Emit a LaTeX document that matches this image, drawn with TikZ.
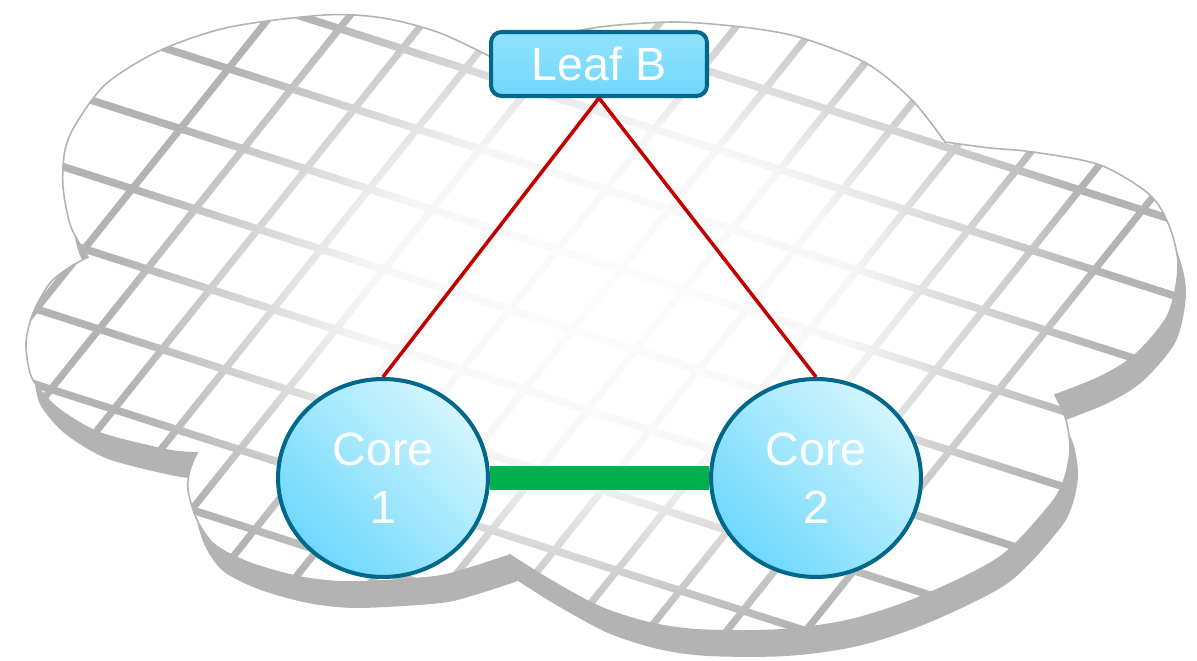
\documentclass[tikz,border=0pt]{standalone}
\usepackage{fontspec}
\setmainfont{Liberation Sans}
\usetikzlibrary{shapes.geometric,fadings}

\definecolor{nodeedge}{HTML}{00688B}
\definecolor{nodelight}{HTML}{D4F5FE}
\definecolor{nodedark}{HTML}{6ED8FD}
\definecolor{leaflight}{HTML}{92E3FD}
\definecolor{leafdark}{HTML}{70D7FB}
\definecolor{linkred}{HTML}{C00000}
\definecolor{linkgreen}{HTML}{00B050}
\definecolor{shadowgray}{HTML}{B3B3B3}

% white in the middle of the grid, clear towards the rim
\pgfdeclareradialshading{gridshade}{\pgfpointorigin}{color(0bp)=(white!97!black); color(12bp)=(white!90!black); color(25bp)=(black); color(50bp)=(black)}
\pgfdeclarefading{gridfade}{\pgfuseshading{gridshade}}

% outline of the cloud, one smooth plot per lobe
\newcommand{\cloudpath}{plot[smooth] coordinates {(88,257) (71,227) (63,187) (65,150) (77,122) (107,83) (161,50) (230,27) (325,15) (383,18) (440,33) (497,60)}
 -- plot[smooth] coordinates {(497,60) (540,40) (600,27) (676,22) (750,28) (802,38) (866,63) (912,100) (945,142)}
 -- plot[smooth] coordinates {(945,142) (990,148) (1033,152) (1100,165) (1150,195) (1170,228) (1178,267) (1168,315) (1135,355) (1100,377) (1055,395)}
 -- plot[smooth] coordinates {(1055,395) (1066,420) (1070,450) (1064,480) (1050,505) (1000,557) (920,597) (850,620) (779,630) (700,630) (650,623) (600,607) (550,580) (510,555)}
 -- plot[smooth] coordinates {(510,555) (470,568) (433,577) (350,582) (300,577) (250,563) (215,545) (197,520) (188,490) (190,470) (197,453)}
 -- plot[smooth] coordinates {(197,453) (167,450) (100,433) (60,410) (40,390) (30,373) (26,343) (33,313) (50,283) (70,267) (88,257)} -- cycle}

\begin{document}
\begin{tikzpicture}[x=0.02cm,y=-0.02cm,
  gridline/.style={draw=shadowgray,line width=4.3pt},
  netnode/.style={draw=nodeedge,line width=2.3pt,top color=nodelight,bottom color=nodedark,
    shading angle=-45,text=white,align=center,font=\fontsize{26.5}{33}\selectfont},
  leafbox/.style={netnode,top color=leaflight,bottom color=leafdark,rectangle,rounded corners=6pt,
    minimum width=4.32cm,minimum height=1.28cm},
  corenode/.style={netnode,ellipse,minimum width=4.2cm,minimum height=3.96cm,inner sep=0pt},
  redlink/.style={draw=linkred,line width=2pt},
  greenlink/.style={draw=linkgreen,line width=14pt}]
   \useasboundingbox (0,0) rectangle (1197,661);

   % cloud with its shadow
   \fill[shadowgray,shift={(8,26)}] \cloudpath;
   \fill[white] \cloudpath;
   \begin{scope}
     \clip \cloudpath;
     \foreach \k in {-6,...,10}
       \draw[gridline] (0,-80+75.5*\k) -- (1197,303+75.5*\k);
     \foreach \k in {0,...,13}
       \draw[gridline,line width=4pt] (323.4+79*\k,-50) -- (-276.6+79*\k,700);
     \fill[white,path fading=gridfade] (610,300) ellipse (500 and 350);
   \end{scope}
   \draw[shadowgray,line width=0.9pt] \cloudpath;

   % nodes
   \node[leafbox] (leafb) at (599,64) {Leaf B};
   \node[corenode] (core1) at (383,478) {Core\\1};
   \node[corenode] (core2) at (816,478) {Core\\2};

   % links
   \draw[redlink] (leafb.south) -- (core1.north);
   \draw[redlink] (leafb.south) -- (core2.north);
   \draw[greenlink] (core1.east) -- (core2.west);
\end{tikzpicture}
\end{document}
